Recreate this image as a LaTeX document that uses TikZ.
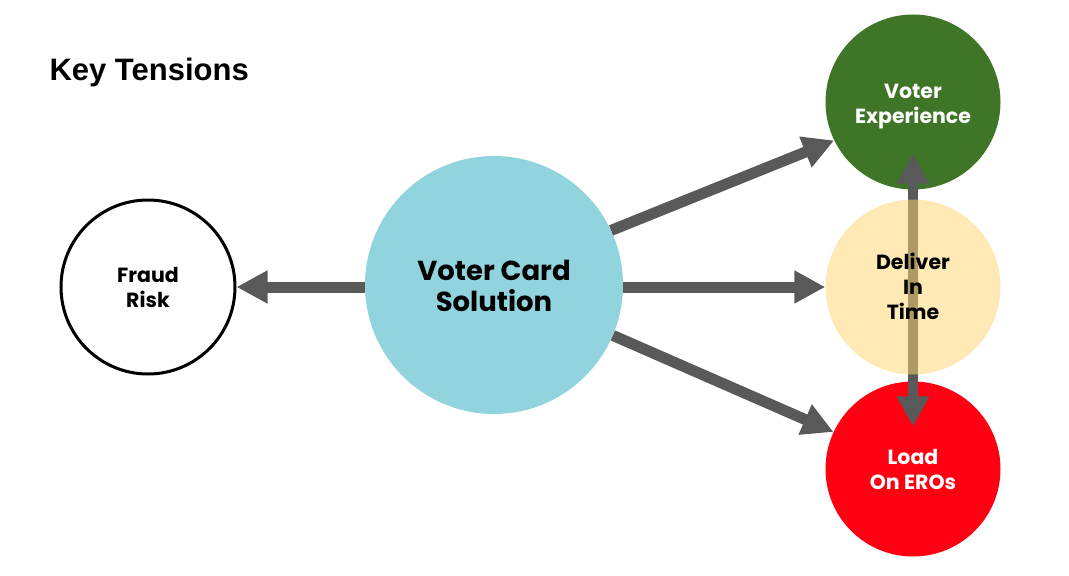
\documentclass[tikz,border=0pt]{standalone}
\usepackage{fontspec}
\setmainfont{Liberation Sans}
\newfontfamily\pop{Poppins}
\usetikzlibrary{arrows.meta}
\definecolor{arrowgray}{HTML}{595959}
\definecolor{cardblue}{HTML}{92D4DE}
\definecolor{expgreen}{HTML}{3E7526}
\definecolor{timeyellow}{HTML}{FFD571}
\definecolor{erored}{HTML}{FF0013}
\tikzset{
  bubble/.style={circle, inner sep=0pt, align=center, font=\pop\bfseries\fontsize{20.5}{25}\selectfont},
  conn/.style={draw=arrowgray, line width=11pt, -{Triangle[width=31pt,length=31pt]}},
  bconn/.style={draw=arrowgray, line width=10pt, {Triangle[width=31pt,length=30pt]}-{Triangle[width=31pt,length=30pt]}},
}
\begin{document}
\begin{tikzpicture}[x=1pt,y=-1pt]
\useasboundingbox (0,0) rectangle (1069,576);
\node[anchor=base west, font=\bfseries\fontsize{31}{36}\selectfont] (title) at (46,80) {Key Tensions};
\node[bubble, draw=black, line width=3pt, minimum size=174pt] (fraud) at (148,287) {};
\node[bubble, fill=cardblue, minimum size=258pt] (card) at (494,285) {};
\node[bubble, fill=expgreen, minimum size=175pt] (exp) at (913,102) {};
\node[bubble, minimum size=175pt] (time) at (913,287) {};
\node[bubble, fill=erored, minimum size=175pt] (load) at (913,469) {};
% connectors
\draw[conn] (card.west |- fraud.east) -- (fraud.east);
\draw[conn] (card.east |- time.west) -- (time.west);
\draw[conn] (card.25) -- (exp.206);
\draw[conn] (card.-23) -- (load.155);
\draw[bconn] ([yshift=36pt]exp.south) -- ([yshift=-45pt]load.north);
% translucent yellow bubble over the vertical arrow
\fill[timeyellow, fill opacity=0.52] (time.center) circle (87.5pt);
% texts
\node[bubble] (fraudtxt) at (fraud.center) {Fraud\\Risk};
\node[bubble, font=\pop\bfseries\fontsize{27.5}{31}\selectfont] (cardtxt) at ([yshift=-1pt]card.center) {Voter Card\\Solution};
\node[bubble, text=white] (exptxt) at ([yshift=-5pt]exp.center) {Voter\\Experience};
\node[bubble] (timetxt) at ([yshift=1pt]time.center) {Deliver\\In\\Time};
\node[bubble, text=white] (loadtxt) at (load.center) {Load\\On EROs};
\end{tikzpicture}
\end{document}
